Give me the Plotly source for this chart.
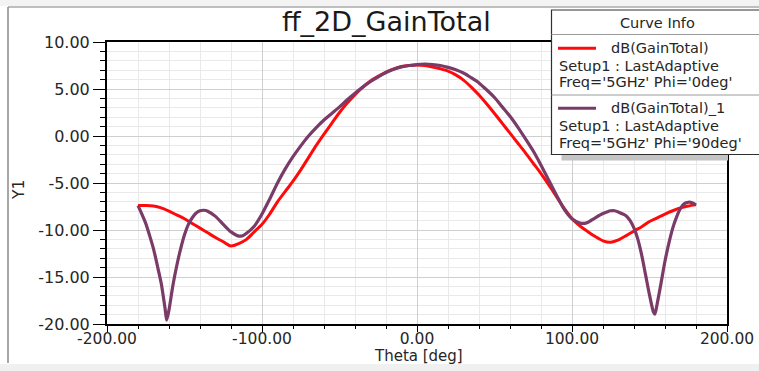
import plotly.graph_objects as go

# ---------------- data ----------------
theta_phi0 = list(range(-180, 181, 5))
gain_phi0 = [
    -7.4, -7.4, -7.45, -7.65, -8.0, -8.4, -8.8, -9.3, -9.8, -10.3,
    -10.8, -11.25, -11.7, -11.45, -11.0, -10.2, -9.4, -8.3, -7.0, -5.9,
    -4.8, -3.6, -2.3, -1.0, 0.2, 1.35, 2.5, 3.5, 4.4, 5.2,
    5.85, 6.35, 6.8, 7.15, 7.4, 7.5, 7.55, 7.5, 7.35, 7.15,
    6.9, 6.5, 5.95, 5.2, 4.35, 3.4, 2.4, 1.35, 0.3, -0.75,
    -1.8, -2.9, -4.0, -5.2, -6.45, -7.7, -8.8, -9.55, -10.15, -10.7,
    -11.15, -11.3, -11.05, -10.6, -10.1, -9.65, -9.1, -8.7, -8.3, -7.95,
    -7.65, -7.45, -7.3,
]

theta_phi90 = [
    -180, -177.5, -175, -172.5, -170, -167.5, -165, -162.5, -161.5, -160,
    -157.5, -155, -152.5, -150, -147.5, -145, -142.5, -140, -137.5, -135,
    -130, -125, -120, -115, -112.5, -110, -105, -100, -95, -90,
    -85, -80, -75, -70, -65, -60, -55, -50, -45, -40,
    -35, -30, -25, -20, -15, -10, -5, 0, 5, 10,
    15, 20, 25, 30, 35, 40, 45, 50, 55, 60,
    65, 70, 75, 80, 85, 90, 95, 100, 105, 108,
    110, 115, 120, 125, 127.5, 130, 135, 137.5, 140, 142.5,
    145, 147.5, 150, 152.5, 153.5, 155, 157.5, 160, 162.5, 165,
    167.5, 170, 172.5, 175, 177.5, 180,
]
gain_phi90 = [
    -7.4, -8.3, -9.3, -10.6, -12.0, -13.8, -15.7, -18.4, -19.6, -18.5,
    -15.9, -13.8, -12.0, -10.5, -9.4, -8.7, -8.2, -7.95, -7.9, -8.0,
    -8.55, -9.4, -10.2, -10.65, -10.6, -10.35, -9.6, -8.3, -6.7, -5.0,
    -3.5, -2.2, -1.05, 0.0, 0.9, 1.7, 2.4, 3.1, 3.85, 4.55,
    5.2, 5.8, 6.3, 6.75, 7.1, 7.35, 7.5, 7.6, 7.65, 7.6,
    7.5, 7.3, 7.05, 6.7, 6.2, 5.65, 4.9, 4.1, 3.1, 2.1,
    0.95, -0.3, -1.6, -3.1, -4.7, -6.3, -7.8, -8.8, -9.25, -9.3,
    -9.2, -8.7, -8.25, -7.95, -7.95, -8.1, -8.5, -9.0, -9.8, -11.0,
    -12.7, -14.8, -16.9, -18.7, -18.95, -17.8, -15.6, -13.3, -11.4, -9.8,
    -8.6, -7.7, -7.2, -7.05, -7.1, -7.35,
]

y_ticks = [10, 5, 0, -5, -10, -15, -20]
x_ticks = [-200, -100, 0, 100, 200]

RED = "#ff0a0a"
PURPLE = "#7a3b68"
FONT = "DejaVu Sans"

# ---------------- figure ----------------
W, H = 759, 371
L, R, T, B = 107, 32, 42, 47
PW, PH = W - L - R, H - T - B


def px(x):
    return (x - L) / PW


def py(y):
    return (H - B - y) / PH


fig = go.Figure()
fig.add_trace(go.Scatter(x=theta_phi0, y=gain_phi0, mode="lines", name="dB(GainTotal)",
                         line=dict(color=RED, width=3, shape="spline", smoothing=0.8)))
fig.add_trace(go.Scatter(x=theta_phi90, y=gain_phi90, mode="lines", name="dB(GainTotal)_1",
                         line=dict(color=PURPLE, width=3.2, shape="spline", smoothing=0.7)))

fig.update_layout(
    width=W, height=H,
    margin=dict(l=L, r=R, t=T, b=B),
    paper_bgcolor="white", plot_bgcolor="white",
    showlegend=False,
    font=dict(family=FONT, color="#262626", size=15),
)
fig.update_xaxes(
    range=[-200, 200], tickvals=x_ticks, ticktext=[f"{v:.2f}" for v in x_ticks],
    automargin=False,
    showgrid=True, gridcolor="#cfcfcf", gridwidth=1,
    minor=dict(dtick=20, tick0=-200, showgrid=True, gridcolor="#e9e9e9", ticks="outside",
               ticklen=3, tickcolor="#000"),
    ticks="outside", ticklen=6, tickcolor="#000", tickwidth=1,
    ticklabelstandoff=-7,
    showline=True, linecolor="#000", linewidth=2, mirror=True,
    zeroline=False, tickfont=dict(size=15.5, family=FONT),
)
fig.update_yaxes(
    range=[-20, 10], tickvals=y_ticks, ticktext=[f"{v:.2f}" for v in y_ticks],
    automargin=False,
    showgrid=True, gridcolor="#cfcfcf", gridwidth=1,
    minor=dict(dtick=1, tick0=0, showgrid=True, gridcolor="#e9e9e9", ticks="outside",
               ticklen=5, tickcolor="#000"),
    ticks="outside", ticklen=12, tickcolor="#000", tickwidth=1,
    showline=True, linecolor="#000", linewidth=2, mirror=True,
    zeroline=False, tickfont=dict(size=16, family=FONT),
)

shapes = []
ann = []
# outer frame
shapes.append(dict(type="rect", xref="paper", yref="paper", x0=px(0), x1=px(W), y0=py(0), y1=py(6),
                   fillcolor="#f3f3f3", line=dict(width=0), layer="below"))
shapes.append(dict(type="rect", xref="paper", yref="paper", x0=px(0), x1=px(W), y0=py(364), y1=py(H),
                   fillcolor="#f0f0f0", line=dict(width=0), layer="below"))
shapes.append(dict(type="line", xref="paper", yref="paper", x0=px(8), x1=px(W), y0=py(7), y1=py(7),
                   line=dict(color="#a8a8a8", width=1.5), layer="above"))
shapes.append(dict(type="line", xref="paper", yref="paper", x0=px(8), x1=px(8), y0=py(7), y1=py(363),
                   line=dict(color="#8a8a8a", width=1.5), layer="above"))

# legend box (Curve Info)
LX0, LX1, LY0, LY1 = 551.5, 762, 10, 154.5
shapes.append(dict(type="rect", xref="paper", yref="paper", x0=px(LX0 + 10), x1=px(728), y0=py(LY1),
                   y1=py(LY1 + 6), fillcolor="#c4c4c4", line=dict(width=0), layer="above"))
shapes.append(dict(type="rect", xref="paper", yref="paper", x0=px(LX0), x1=px(LX1), y0=py(LY1),
                   y1=py(LY0), fillcolor="white", line=dict(color="#303030", width=1.2), layer="above"))
for yy in (34.5, 95):
    shapes.append(dict(type="line", xref="paper", yref="paper", x0=px(LX0), x1=px(LX1), y0=py(yy),
                       y1=py(yy), line=dict(color="#9a9a9a", width=1), layer="above"))
for yy, col in ((48.3, RED), (108.3, PURPLE)):
    shapes.append(dict(type="line", xref="paper", yref="paper", x0=px(558), x1=px(596), y0=py(yy),
                       y1=py(yy), line=dict(color=col, width=3), layer="above"))

ann.append(dict(text="Curve Info", x=px(657), y=py(23), xref="paper", yref="paper", showarrow=False,
                xanchor="center", yanchor="middle", font=dict(size=14.5, family=FONT, color="#262626")))
legend_lines = [
    ("dB(GainTotal)", 609, 48),
    ("Setup1 : LastAdaptive", 557, 65.5),
    ("Freq='5GHz' Phi='0deg'", 557, 82),
    ("dB(GainTotal)_1", 609, 108),
    ("Setup1 : LastAdaptive", 557, 125.5),
    ("Freq='5GHz' Phi='90deg'", 557, 142.5),
]
for txt, xx, yy in legend_lines:
    ann.append(dict(text=txt, x=px(xx), y=py(yy), xref="paper", yref="paper", showarrow=False,
                    xanchor="left", yanchor="middle", font=dict(size=14.5, family=FONT, color="#262626")))

# titles
ann.append(dict(text="ff_2D_GainTotal", x=px(386), y=py(22), xref="paper", yref="paper", showarrow=False,
                xanchor="center", yanchor="middle", font=dict(size=27, family=FONT, color="#1a1a1a")))
ann.append(dict(text="Theta [deg]", x=px(419), y=py(355.5), xref="paper", yref="paper", showarrow=False,
                xanchor="center", yanchor="middle", font=dict(size=15, family=FONT, color="#262626")))
ann.append(dict(text="Y1", x=px(19), y=py(190), xref="paper", yref="paper", showarrow=False,
                textangle=-90, xanchor="center", yanchor="middle",
                font=dict(size=15.5, family=FONT, color="#262626")))

fig.update_layout(shapes=shapes, annotations=ann)
fig.write_html("out.html")
